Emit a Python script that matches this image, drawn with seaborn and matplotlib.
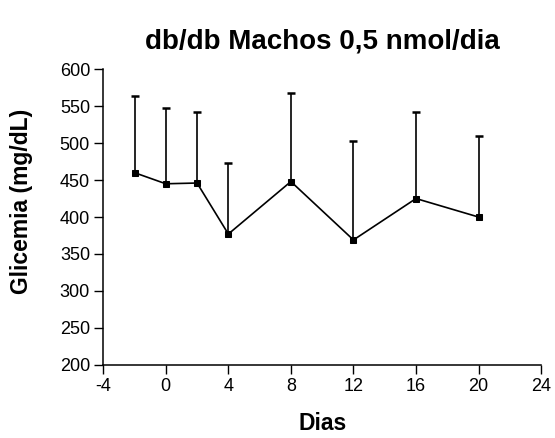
import matplotlib
matplotlib.use("Agg")
import matplotlib.pyplot as plt
import seaborn as sns
import pandas as pd

dias = [-2, 0, 2, 4, 8, 12, 16, 20]
glicemia = [460, 445, 446, 377, 448, 369, 425, 400]
erro_sup = [104, 102, 96, 96, 120, 134, 117, 109]

xticks = [-4, 0, 4, 8, 12, 16, 20, 24]
yticks = [200, 250, 300, 350, 400, 450, 500, 550, 600]

sns.set_style("ticks")
plt.rcParams['font.family'] = ['Liberation Sans', 'DejaVu Sans']
plt.rcParams['text.color'] = 'black'
plt.rcParams['axes.labelcolor'] = 'black'

df = pd.DataFrame({"Dias": dias, "Glicemia": glicemia})

fig = plt.figure(figsize=(5.55, 4.38), dpi=100)
ax = fig.add_axes([0.186, 0.167, 0.789, 0.675])

eb = ax.errorbar(dias, glicemia, yerr=[[0] * len(erro_sup), erro_sup], fmt='none',
                 ecolor='black', elinewidth=1.2, capsize=2.8, capthick=1.8, zorder=2)
# show only the upper caps
eb[1][0].set_visible(False)

sns.lineplot(data=df, x="Dias", y="Glicemia", ax=ax, color='black', linewidth=1.2,
             marker='s', markersize=4.2, markeredgecolor='black', markerfacecolor='black',
             zorder=3)

ax.set_xlim(-4, 24)
ax.set_ylim(200, 600)
ax.set_xticks(xticks)
ax.set_yticks(yticks)
ax.set_xticklabels([str(t) for t in xticks], fontsize=13)
ax.set_yticklabels([str(t) for t in yticks], fontsize=13)
ax.tick_params(direction='out', length=6.5, width=1, colors='black', pad=3)
for s in ['top', 'right']:
    ax.spines[s].set_visible(False)
for s in ['left', 'bottom']:
    ax.spines[s].set_linewidth(1.1)
    ax.spines[s].set_color('black')

ax.set_xlabel("Dias", fontsize=16.5, fontweight='bold')
ax.set_ylabel("Glicemia (mg/dL)", fontsize=16.5, fontweight='bold')
ax.xaxis.set_label_coords(0.5, -0.159)
ax.yaxis.set_label_coords(-0.16, 0.553)
ax.set_title("db/db Machos 0,5 nmol/dia", fontsize=20, fontweight='bold', pad=15)

fig.savefig("out.png", dpi=100)
